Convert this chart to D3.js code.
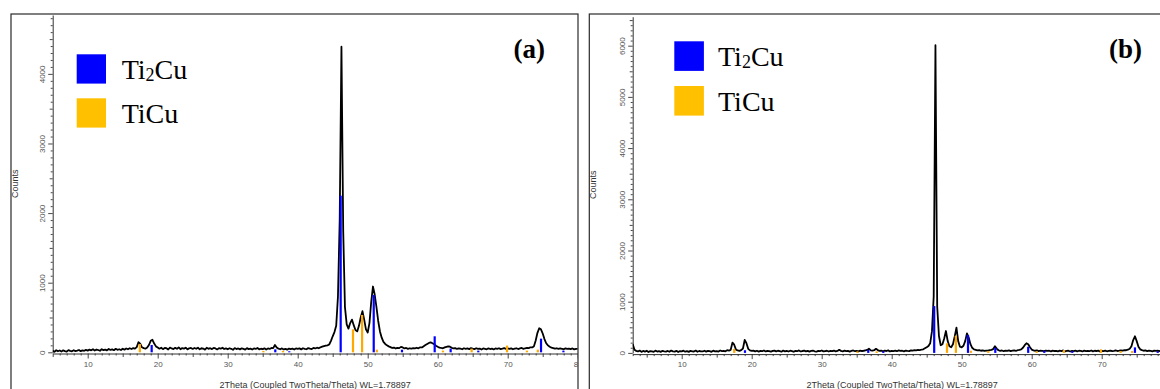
<!DOCTYPE html>
<html>
<head>
<meta charset="utf-8">
<script src="https://cdn.jsdelivr.net/npm/d3@7"></script>
<style>
  body { margin: 0; background: #fff; }
  svg { display: block; }
</style>
</head>
<body>
<svg id="chart" width="1160" height="389"></svg>
<script>
// ---- Scan (a): 2Theta grid start/step and measured counts ----
const startA = 5, stepA = 0.25;
const countsA = [
  22, 8, 30, 15, 26, 12, 28, 18, 10, 31, 20, 14, 29, 17, 24, 33, 16, 27, 21, 35,          // 5.00 - 9.75
  24, 38, 29, 44, 26, 40, 33, 22, 45, 31, 39, 27, 48, 34, 42, 30, 50, 36, 44, 33,         // 10.00 - 14.75
  52, 38, 55, 44, 58, 47, 60, 52, 75, 145, 125, 72, 60, 52, 68, 105, 165, 180, 125, 85,   // 15.00 - 19.75
  70, 52, 66, 45, 62, 58, 40, 68, 55, 47, 64, 50, 71, 44, 60, 53, 66, 42, 58, 63,         // 20.00 - 24.75
  48, 62, 51, 67, 43, 58, 54, 38, 65, 50, 59, 46, 63, 55, 41, 60, 52, 66, 47, 57,         // 25.00 - 29.75
  44, 58, 50, 36, 61, 47, 55, 42, 57, 49, 38, 60, 46, 53, 40, 56, 48, 62, 43, 51,         // 30.00 - 34.75
  45, 57, 40, 55, 48, 62, 60, 105, 70, 52, 44, 56, 41, 50, 38, 54, 46, 52, 40, 55,        // 35.00 - 39.75
  48, 56, 42, 58, 50, 44, 60, 52, 47, 62, 55, 66, 58, 72, 80, 88, 95, 100, 112, 165,      // 40.00 - 44.75
  230, 290, 380, 800, 1900, 4390, 1750, 650, 400, 340, 420, 470, 390, 320, 300, 380, 500, 590, 470, 330, // 45.00 - 49.75
  285, 420, 720, 945, 830, 650, 450, 300, 210, 150, 120, 100, 85, 75, 62, 68, 55, 64, 60, 78,            // 50.00 - 54.75
  70, 55, 62, 50, 58, 53, 60, 56, 65, 58, 72, 70, 88, 105, 120, 135, 142, 130, 115, 95,   // 55.00 - 59.75
  80, 68, 62, 58, 70, 78, 86, 80, 64, 56, 60, 48, 57, 52, 44, 58, 50, 55, 46, 60,         // 60.00 - 64.75
  52, 45, 58, 48, 54, 40, 56, 50, 43, 57, 47, 53, 41, 55, 49, 58, 46, 52, 60, 50,         // 65.00 - 69.75
  55, 48, 57, 44, 52, 58, 47, 55, 62, 50, 58, 64, 60, 72, 70, 88, 170, 280, 345, 330,     // 70.00 - 74.75
  270, 190, 130, 100, 80, 68, 60, 52, 58, 48, 55, 50, 44, 57, 49, 53, 46, 55, 42, 50,     // 75.00 - 79.75
  48                                                                                       // 80.00
];

// ---- Scan (b) ----
const startB = 3, stepB = 0.25;
const countsB = [
  175, 60, 40, 28, 45, 20, 38, 26, 42, 18, 35, 30, 22, 44, 27, 36, 19, 40, 31, 25,        // 3.00 - 7.75
  38, 22, 45, 30, 26, 41, 18, 36, 29, 43, 24, 34, 20, 39, 31, 27, 46, 23, 37, 30,         // 8.00 - 12.75
  28, 42, 25, 38, 33, 21, 44, 30, 36, 26, 47, 35, 40, 31, 52, 45, 60, 200, 160, 65,       // 13.00 - 17.75
  48, 40, 55, 85, 252, 190, 80, 50, 38, 45, 30, 42, 26, 39, 33, 47, 28, 41, 35, 24,       // 18.00 - 22.75
  38, 45, 29, 42, 34, 24, 46, 31, 39, 27, 43, 36, 22, 40, 33, 48, 28, 37, 44, 30,         // 23.00 - 27.75
  41, 26, 38, 45, 32, 23, 40, 35, 47, 29, 36, 42, 27, 39, 33, 46, 31, 38, 60, 40,         // 28.00 - 32.75
  28, 44, 35, 41, 26, 39, 47, 33, 40, 30, 45, 37, 42, 50, 58, 82, 50, 44, 52, 80,         // 33.00 - 37.75
  55, 40, 46, 32, 43, 37, 49, 29, 41, 36, 45, 33, 48, 38, 42, 30, 46, 40, 35, 50,         // 38.00 - 42.75
  44, 52, 48, 58, 55, 62, 70, 90, 110, 135, 190, 420, 1100, 6010, 900, 330, 150, 170, 280, 427, // 43.00 - 47.75
  230, 130, 110, 170, 320, 492, 230, 120, 110, 140, 230, 382, 300, 170, 100, 70, 60, 48, 55, 42, // 48.00 - 52.75
  50, 38, 46, 44, 55, 60, 75, 130, 85, 52, 40, 47, 33, 45, 38, 50, 36, 43, 48, 41,        // 53.00 - 57.75
  52, 60, 70, 100, 150, 188, 170, 110, 65, 50, 42, 48, 36, 44, 40, 33, 46, 38, 42, 30,    // 58.00 - 62.75
  45, 37, 41, 29, 44, 35, 48, 32, 39, 43, 27, 40, 36, 46, 31, 42, 38, 28, 44, 35,         // 63.00 - 67.75
  40, 33, 47, 30, 42, 37, 45, 28, 41, 36, 44, 32, 39, 46, 34, 40, 48, 37, 43, 50,         // 68.00 - 72.75
  45, 55, 52, 62, 80, 130, 250, 324, 230, 120, 70, 55, 42, 48, 36, 44, 39, 31, 45, 38,    // 73.00 - 77.75
  42, 34, 46, 37, 40, 33, 45, 38, 41                                                       // 78.00 - 80.00
];

// ---- Reference phase lines (position in 2Theta, stick height in counts) ----
const ti2cuPosA = [19.14, 36.8, 38.8, 46.14, 50.86, 54.9, 59.57, 61.85, 65.8, 74.76, 77.96];
const ti2cuHA   = [105, 43, 15, 2250, 823, 38, 230, 53, 24, 196, 24];
const ticuPosA  = [17.45, 35.1, 37.9, 47.9, 49.2, 51.3, 60.75, 64.85, 69.9, 72.75, 74.3];
const ticuHA    = [120, 20, 20, 330, 536, 38, 24, 53, 96, 24, 38];

const ti2cuPosB = [19.04, 36.65, 38.8, 46.07, 50.9, 54.8, 59.5, 61.8, 65.8, 74.75, 78.0];
const ti2cuHB   = [52, 60, 30, 915, 350, 100, 120, 43, 36, 108, 30];
const ticuPosB  = [17.5, 35.1, 37.85, 47.9, 49.17, 51.3, 53.8, 60.7, 64.6, 69.9, 72.7, 74.35];
const ticuHB    = [78, 30, 30, 187, 337, 43, 36, 30, 56, 70, 36, 36];

// ---- Axis ticks and labels ----
const xTickLabels = [10, 20, 30, 40, 50, 60, 70, 80];
const yTickLabelsA = [0, 1000, 2000, 3000, 4000];
const yTickLabelsB = [0, 1000, 2000, 3000, 4000, 5000, 6000];
const phaseNames = ["Ti2Cu", "TiCu"];
const panelTags = ["(a)", "(b)"];
const xTitle = "2Theta (Coupled TwoTheta/Theta) WL=1.78897";
const yTitle = "Counts";

const BLUE = "#0000ff", GOLD = "#ffc000", STICK_ORANGE = "#ffa800";
const VIEW_W = 1160;

const svg = d3.select("#chart");

const panels = [
  {
    id: "a", tag: panelTags[0],
    frame: { x: 11, y: 14, w: 567 },
    xDomain: [5, 80], xRange: [52.7, 577.7],
    yDomain: [0, 4846], yRange: [352.3, 15],
    start: startA, step: stepA, counts: countsA,
    blue: { pos: ti2cuPosA, h: ti2cuHA }, orange: { pos: ticuPosA, h: ticuHA },
    yLabels: yTickLabelsA,
    legend: { x: 76.7, y: 54.3, size: 29.3, gap: 44, textX: 121.7 },
    tagX: 545, tagY: 58
  },
  {
    id: "b", tag: panelTags[1],
    frame: { x: 589.3, y: 14, w: 640 },
    xDomain: [3, 80], xRange: [632.7, 1171.7],
    yDomain: [0, 6566], yRange: [352.9, 16.7],
    start: startB, step: stepB, counts: countsB,
    blue: { pos: ti2cuPosB, h: ti2cuHB }, orange: { pos: ticuPosB, h: ticuHB },
    yLabels: yTickLabelsB,
    legend: { x: 674.3, y: 41.3, size: 29.6, gap: 44.7, textX: 718 },
    tagX: 1142, tagY: 58
  }
];

panels.forEach(p => {
  const g = svg.append("g").attr("class", "panel-" + p.id);
  const x = d3.scaleLinear().domain(p.xDomain).range(p.xRange);
  const y = d3.scaleLinear().domain(p.yDomain).range(p.yRange);
  const axisX = p.xRange[0];
  const zeroY = y(0);

  // outer frame
  g.append("rect")
    .attr("x", p.frame.x).attr("y", p.frame.y)
    .attr("width", p.frame.w).attr("height", 420)
    .attr("fill", "none").attr("stroke", "#2a2a2a").attr("stroke-width", 1.2);

  // clip for the plotting region
  const clipId = "clip-" + p.id;
  g.append("clipPath").attr("id", clipId)
    .append("rect")
    .attr("x", axisX).attr("y", 0)
    .attr("width", Math.min(p.xRange[1], p.frame.x + p.frame.w) - axisX)
    .attr("height", zeroY + 2);

  const textClipId = "tclip-" + p.id;
  g.append("clipPath").attr("id", textClipId)
    .append("rect")
    .attr("x", p.frame.x).attr("y", p.frame.y)
    .attr("width", p.frame.w).attr("height", 420);

  // y axis: minor ticks every 100, mid ticks every 500, labelled every 1000
  const yMax = p.yDomain[1];
  const minor = d3.range(0, yMax, 100);
  const yAxisG = g.append("g").attr("transform", `translate(${axisX},0)`);
  yAxisG.call(d3.axisLeft(y).tickValues(minor.filter(v => v % 500 !== 0)).tickSize(2).tickSizeOuter(0).tickFormat(""));
  yAxisG.call(g2 => g2.select(".domain").remove());
  const yAxisG2 = g.append("g").attr("transform", `translate(${axisX},0)`);
  yAxisG2.call(d3.axisLeft(y).tickValues(minor.filter(v => v % 500 === 0 && v % 1000 !== 0)).tickSize(3).tickSizeOuter(0).tickFormat(""));
  yAxisG2.call(g2 => g2.select(".domain").remove());
  const yAxisG3 = g.append("g").attr("transform", `translate(${axisX},0)`);
  yAxisG3.call(d3.axisLeft(y).tickValues(p.yLabels).tickSize(4.5).tickSizeOuter(0).tickFormat(d3.format("d")));
  yAxisG3.selectAll(".tick text")
    .attr("transform", "rotate(-90)")
    .attr("x", 0).attr("y", -8).attr("dy", "0")
    .attr("text-anchor", "middle")
    .attr("font-family", "Liberation Sans, Arial, sans-serif")
    .attr("font-size", 8).attr("fill", "#555");
  g.selectAll(".tick line").attr("stroke", "#333").attr("stroke-width", 0.9);
  yAxisG3.select(".domain").attr("stroke", "#333").attr("stroke-width", 1);

  // x axis: minor every 1, mid every 5, labelled every 10
  const xAxisY = zeroY + 1.2;
  const xMinor = d3.range(Math.ceil(p.xDomain[0]), p.xDomain[1] + 0.01, 1);
  const xg = g.append("g").attr("clip-path", `url(#${textClipId})`);
  const xa1 = xg.append("g").attr("transform", `translate(0,${xAxisY})`);
  xa1.call(d3.axisBottom(x).tickValues(xMinor.filter(v => v % 5 !== 0)).tickSize(2).tickSizeOuter(0).tickFormat(""));
  xa1.select(".domain").remove();
  const xa2 = xg.append("g").attr("transform", `translate(0,${xAxisY})`);
  xa2.call(d3.axisBottom(x).tickValues(xMinor.filter(v => v % 5 === 0 && v % 10 !== 0)).tickSize(3.5).tickSizeOuter(0).tickFormat(""));
  xa2.select(".domain").remove();
  // labelled ticks: only those whose label fits inside the visible page
  const shownLabels = xTickLabels.filter(v => x(v) < VIEW_W - 8);
  const xa3 = xg.append("g").attr("transform", `translate(0,${xAxisY})`);
  xa3.call(d3.axisBottom(x).tickValues(shownLabels).tickSize(5).tickSizeOuter(0).tickFormat(d3.format("d")));
  xa3.selectAll(".tick text")
    .attr("y", 13).attr("dy", 0)
    .attr("font-family", "Liberation Sans, Arial, sans-serif")
    .attr("font-size", 8).attr("fill", "#555");
  xa3.select(".domain").attr("stroke", "#333").attr("stroke-width", 1);
  xg.selectAll(".tick line").attr("stroke", "#333").attr("stroke-width", 0.9);

  // axis titles
  g.append("text")
    .attr("x", (p.xRange[0] + p.xRange[1]) / 2)
    .attr("y", 387.5)
    .attr("text-anchor", "middle")
    .attr("font-family", "Liberation Sans, Arial, sans-serif")
    .attr("font-size", 9).attr("fill", "#333")
    .text(xTitle);
  g.append("text")
    .attr("transform", `translate(${p.frame.x + 6.5},${(p.yRange[0] + p.yRange[1]) / 2}) rotate(-90)`)
    .attr("text-anchor", "middle")
    .attr("font-family", "Liberation Sans, Arial, sans-serif")
    .attr("font-size", 9).attr("fill", "#333")
    .text(yTitle);

  // diffraction pattern
  const pts = p.counts.map((c, i) => [p.start + i * p.step, c]);
  const line = d3.line().x(d => x(d[0])).y(d => y(d[1]));
  const plot = g.append("g").attr("clip-path", `url(#${clipId})`);
  plot.append("path")
    .datum(pts)
    .attr("d", line)
    .attr("fill", "none")
    .attr("stroke", "#000")
    .attr("stroke-width", 1.8)
    .attr("stroke-linejoin", "round");

  // reference phase sticks
  const drawSticks = (set, color) => {
    plot.selectAll(null)
      .data(set.pos.map((v, i) => ({ pos: v, h: set.h[i] })))
      .join("rect")
      .attr("x", d => x(d.pos) - 1.1)
      .attr("y", d => y(d.h))
      .attr("width", 2.2)
      .attr("height", d => zeroY - y(d.h))
      .attr("fill", color);
  };
  drawSticks(p.orange, STICK_ORANGE);
  drawSticks(p.blue, BLUE);

  // legend
  const L = p.legend;
  [BLUE, GOLD].forEach((c, i) => {
    g.append("rect")
      .attr("x", L.x).attr("y", L.y + i * L.gap)
      .attr("width", L.size).attr("height", L.size)
      .attr("fill", c);
  });
  const t1 = g.append("text")
    .attr("x", L.textX).attr("y", L.y + L.size - 5)
    .attr("font-family", "Liberation Serif, Times New Roman, serif")
    .attr("font-size", 28).attr("fill", "#000");
  t1.append("tspan").text("Ti");
  t1.append("tspan").attr("font-size", 18).attr("dy", 2).text("2");
  t1.append("tspan").attr("dy", -2).text("Cu");
  g.append("text")
    .attr("x", L.textX).attr("y", L.y + L.gap + L.size - 5)
    .attr("font-family", "Liberation Serif, Times New Roman, serif")
    .attr("font-size", 28).attr("fill", "#000")
    .text(phaseNames[1]);

  // panel tag
  g.append("text")
    .attr("x", p.tagX).attr("y", p.tagY)
    .attr("text-anchor", "end")
    .attr("font-family", "Liberation Serif, Times New Roman, serif")
    .attr("font-weight", "bold")
    .attr("font-size", 27).attr("fill", "#000")
    .text(p.tag);
});
</script>
</body>
</html>
